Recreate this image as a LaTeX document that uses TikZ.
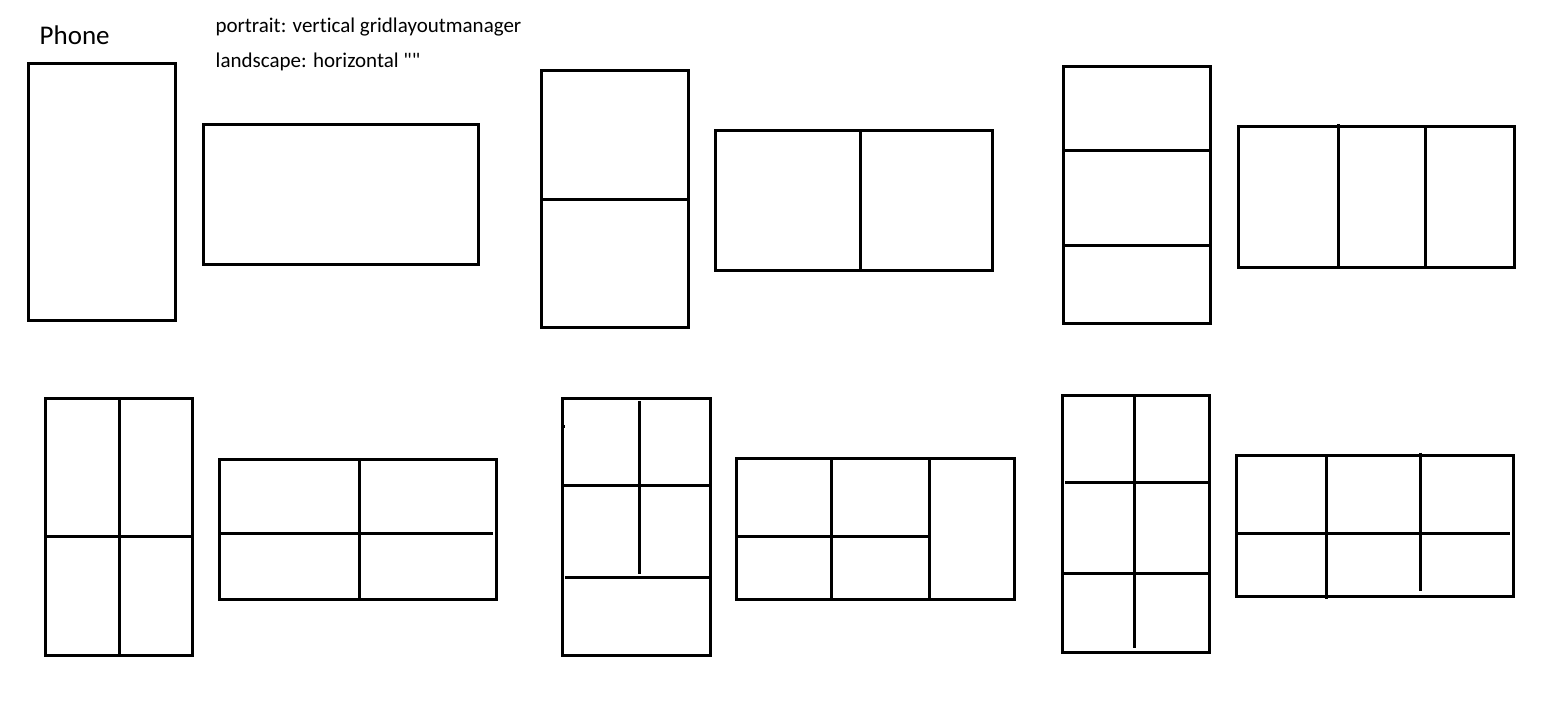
\documentclass[tikz,border=0pt]{standalone}
\usepackage{fontspec}
\newfontfamily\plainsans{Carlito}[Ligatures=NoCommon]
\begin{document}
\begin{tikzpicture}[x=1pt,y=-1pt,
  frame/.style={draw=black,line width=3pt},
  divider/.style={draw=black,line width=3pt},
  biglbl/.style={inner sep=0pt,anchor=base west,font=\plainsans\fontsize{27}{30}\selectfont},
  smalllbl/.style={inner sep=0pt,anchor=base west,font=\plainsans\fontsize{21}{24}\selectfont}]
\useasboundingbox[fill=white] (0,0) rectangle (1561,711);

% texts
\node[biglbl] (phone) at (39.5,45) {Phone};
\node[smalllbl] (portrait) at (215.3,32.3) {portrait: vertical gridlayoutmanager};
\node[smalllbl] (landscape) at (215.5,67.7) {landscape: horizontal ""};

% ---- top row ----
% 1 portrait, 1 cell
\draw[frame] (28.8,63.5) rectangle (175.5,320.5);
% 1 landscape
\draw[frame] (203.5,124.2) rectangle (478.8,264.2);

% 2 portrait
\draw[frame] (541.5,70.8) rectangle (688.8,327.2);
\draw[divider] (541.5,199.2) -- (688.8,199.2);
% 2 landscape
\draw[frame] (715.5,130.5) rectangle (992.5,270.8);
\draw[divider] (860.5,130.5) -- (860.5,270.8);

% 3 portrait
\draw[frame] (1063.5,66.5) rectangle (1210.5,323.5);
\draw[divider] (1063.5,150.2) -- (1210.5,150.2);
\draw[divider] (1063.5,245.2) -- (1210.5,245.2);
% 3 landscape
\draw[frame] (1238.2,126.8) rectangle (1514.5,267.2);
\draw[divider] (1338.5,124) -- (1338.5,267.2);
\draw[divider] (1425.8,126.8) -- (1425.8,267.2);

% ---- bottom row ----
% 4 portrait
\draw[frame] (45.5,398.8) rectangle (192.8,655.2);
\draw[divider] (119.2,398.8) -- (119.2,655.2);
\draw[divider] (45.5,536.2) -- (192.8,536.2);
% 4 landscape
\draw[frame] (219.5,459.2) rectangle (496.8,599.2);
\draw[divider] (359.5,459.2) -- (359.5,599.2);
\draw[divider] (219.5,533.5) -- (492.7,533.5);

% 5 portrait
\draw[frame] (562.2,398.5) rectangle (710.2,655.5);
\draw[divider] (639.5,401) -- (639.5,574.3);
\draw[divider] (562.2,485.5) -- (710.2,485.5);
\draw[divider] (565,577.5) -- (710.2,577.5);
\fill[black] (563.5,425) rectangle (565.2,427.5);
% 5 landscape
\draw[frame] (736.8,458.8) rectangle (1014.2,599.2);
\draw[divider] (831.5,458.8) -- (831.5,599.2);
\draw[divider] (929.5,458.8) -- (929.5,599.2);
\draw[divider] (736.8,536.2) -- (929.5,536.2);

% 6 portrait
\draw[frame] (1062.2,395.2) rectangle (1209.8,652.5);
\draw[divider] (1134.5,395.2) -- (1134.5,648.3);
\draw[divider] (1065,482.5) -- (1209.8,482.5);
\draw[divider] (1062.2,573.5) -- (1209.8,573.5);
% 6 landscape
\draw[frame] (1236.5,455.5) rectangle (1513.5,596.5);
\draw[divider] (1326.2,455.5) -- (1326.2,599);
\draw[divider] (1420.2,452.7) -- (1420.2,590.7);
\draw[divider] (1236.5,533.5) -- (1510,533.5);
\end{tikzpicture}
\end{document}
